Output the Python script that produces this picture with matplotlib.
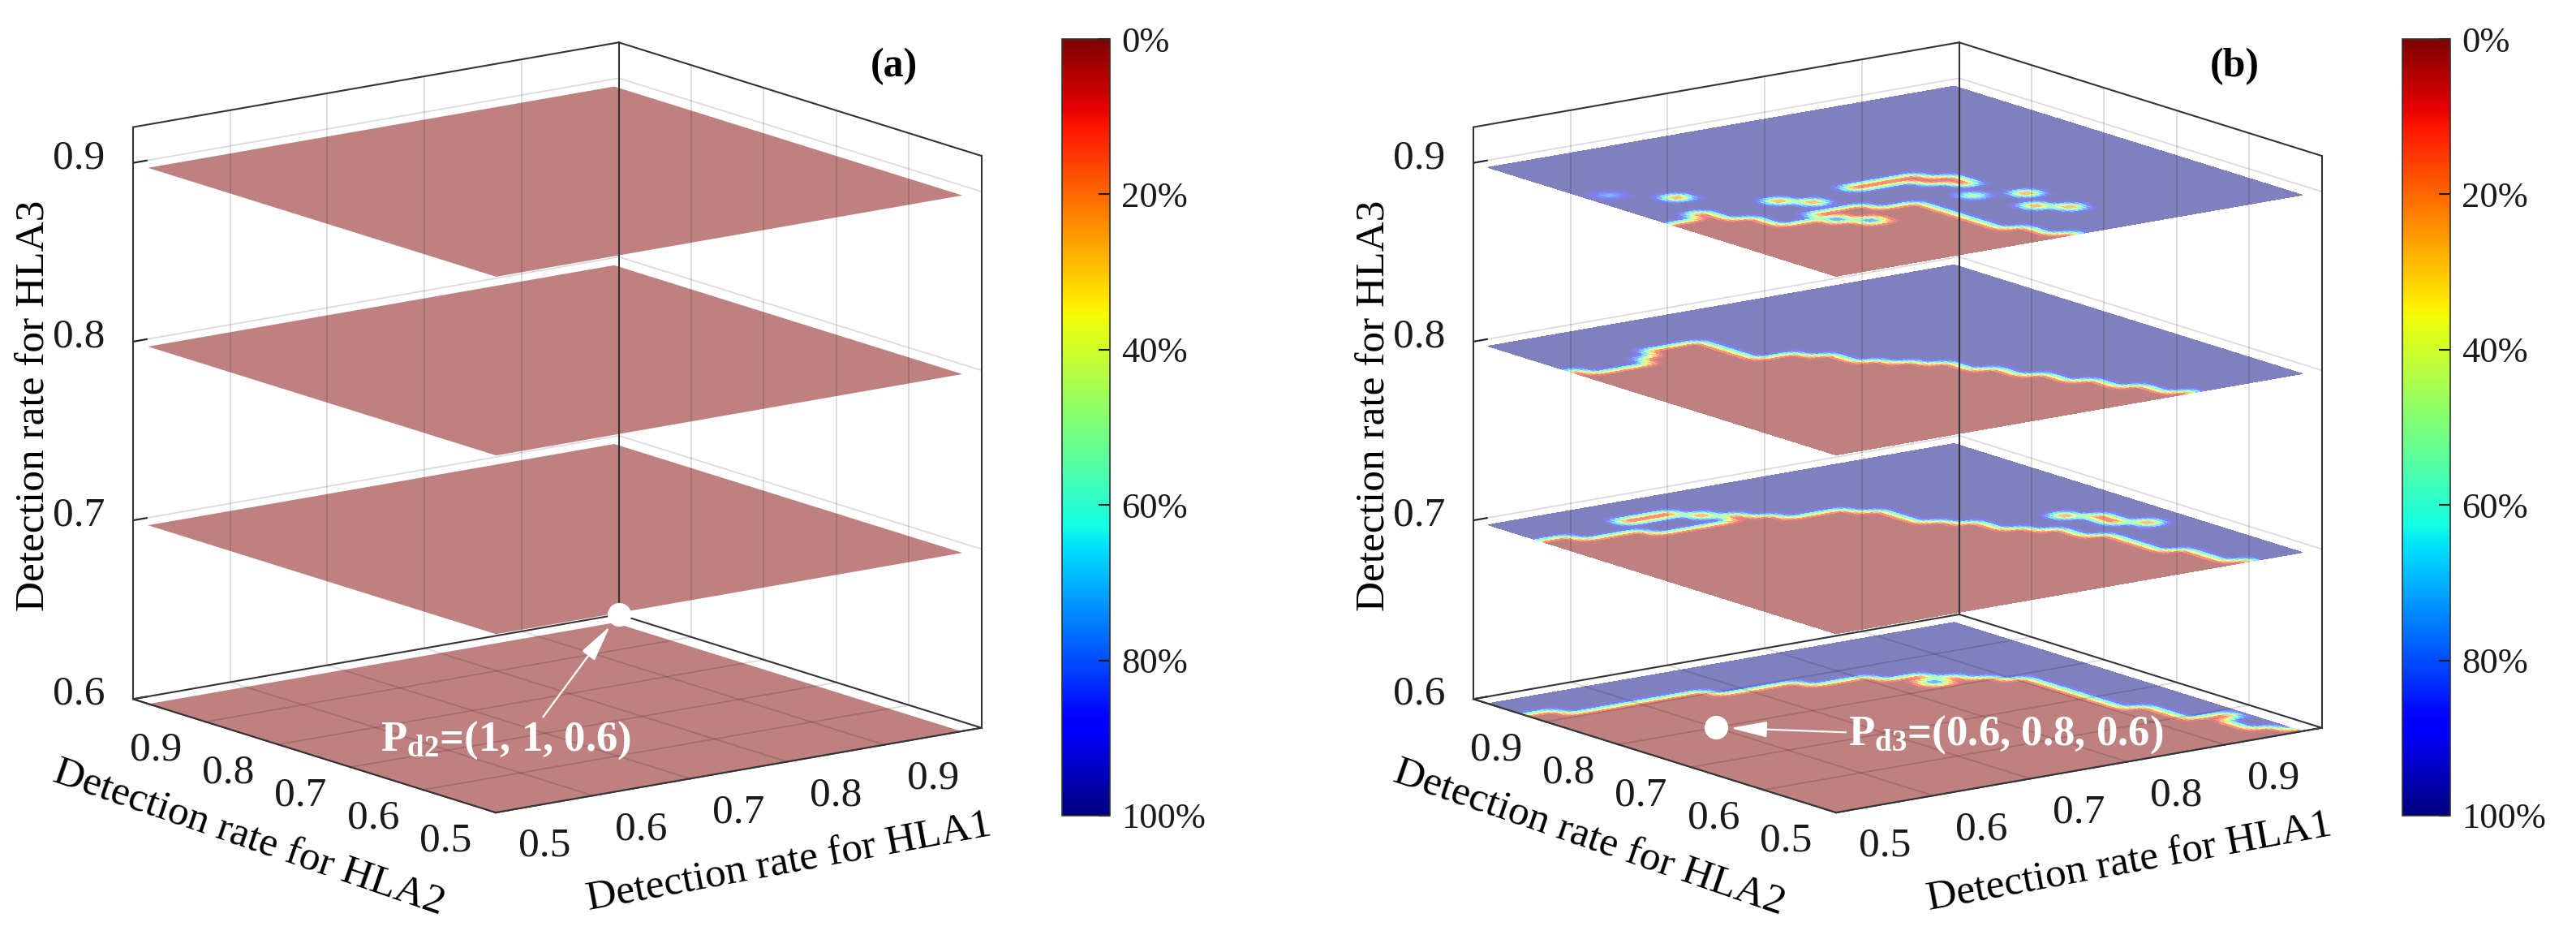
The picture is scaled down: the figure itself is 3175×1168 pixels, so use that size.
"""Rate slices over the HLA1/HLA2 detection-rate plane at four HLA3 levels.

(a) every slice sits at 0%, (b) a 0%/100% split that moves with HLA3.
"""
import numpy as np
import matplotlib
matplotlib.use('Agg')
import matplotlib.pyplot as plt
from matplotlib.cm import ScalarMappable
from matplotlib.colors import Normalize
from mpl_toolkits.mplot3d import proj3d

# ---------------------------------------------------------------------------
# Style
# ---------------------------------------------------------------------------
plt.rcParams.update({
    'font.family': 'Liberation Serif',
    'mathtext.fontset': 'custom',
    'mathtext.rm': 'Liberation Serif',
    'mathtext.it': 'Liberation Serif:italic',
    'mathtext.bf': 'Liberation Serif:bold',
    'xtick.color': '#262626',
    'ytick.color': '#262626',
})

W, H, DPI = 3175, 1168, 100
CMAP = plt.get_cmap('jet_r')
NORM = Normalize(0.0, 1.0)
SLICE_ALPHA = 0.5          # slices look like 50% transparent over white
EDGE = '#333333'
GRID_RGBA = (0.0, 0.0, 0.0, 0.14)

# ---------------------------------------------------------------------------
# Data
# ---------------------------------------------------------------------------
HLA_GRID = [0.50, 0.52, 0.54, 0.56, 0.58, 0.60, 0.62, 0.64, 0.66, 0.68,
            0.70, 0.72, 0.74, 0.76, 0.78, 0.80, 0.82, 0.84, 0.86, 0.88,
            0.90, 0.92, 0.94, 0.96, 0.98]
HLA3_LEVELS = [0.6, 0.7, 0.8, 0.9]

# (a): the rate is 0% on every slice
RATE_A = 0.0

# (b): for each HLA1 value in HLA_GRID, the HLA2 value from which the rate is 100%
EDGE_B_06 = [0.94, 0.94, 0.92, 0.92, 0.92, 0.92, 0.92, 0.92, 0.92, 0.90,
             0.90, 0.90, 0.90, 0.88, 0.88, 0.88, 0.86, 0.86, 0.84, 0.82,
             0.80, 0.66, 0.60, 0.54, 0.52]
EDGE_B_07 = [0.92, 0.92, 0.90, 0.90, 0.90, 0.88, 0.88, 0.88, 0.88, 0.90,
             0.88, 0.86, 0.86, 0.86, 0.84, 0.78, 0.76, 0.72, 0.70, 0.66,
             0.58, 0.52, 0.50, 0.50, 0.50]
EDGE_B_08 = [0.88, 0.86, 0.86, 0.86, 0.88, 0.90, 0.90, 0.90, 0.82, 0.82,
             0.80, 0.76, 0.74, 0.72, 0.68, 0.64, 0.60, 0.56, 0.52, 0.50,
             0.50, 0.50, 0.50, 0.50, 0.50]
EDGE_B_09 = [0.74, 0.74, 0.76, 0.72, 0.68, 0.68, 0.70, 0.70, 0.70, 0.68,
             0.68, 0.56, 0.52, 0.50, 0.50, 0.50, 0.50, 0.50, 0.50, 0.50,
             0.50, 0.50, 0.50, 0.50, 0.50]

# isolated cells that break the split: (HLA1, HLA2, rate)
SPOTS_B_06 = [(0.84, 0.82, 1.0), (0.96, 0.58, 0.0)]
SPOTS_B_07 = [(0.60, 0.92, 0.0), (0.62, 0.92, 0.0), (0.64, 0.92, 0.0),
              (0.66, 0.90, 0.0), (0.90, 0.72, 0.0), (0.92, 0.70, 0.0),
              (0.92, 0.68, 0.0), (0.94, 0.66, 0.0)]
SPOTS_B_08 = []
SPOTS_B_09 = [(0.52, 0.84, 0.7), (0.56, 0.80, 0.0), (0.62, 0.74, 0.0),
              (0.64, 0.72, 0.0), (0.70, 0.74, 0.0), (0.72, 0.74, 0.0),
              (0.74, 0.74, 0.0), (0.76, 0.74, 0.0), (0.76, 0.72, 0.0),
              (0.78, 0.72, 0.0), (0.78, 0.70, 0.0), (0.76, 0.66, 0.35),
              (0.80, 0.64, 0.0), (0.78, 0.60, 0.0), (0.80, 0.58, 0.0),
              (0.62, 0.66, 1.0), (0.64, 0.64, 1.0)]

POINT_A = (1.0, 1.0, 0.6)
POINT_B = (0.6, 0.8, 0.6)
TEXT_A = r'P$_{\mathbf{d2}}$=(1, 1, 0.6)'
TEXT_B = r'P$_{\mathbf{d3}}$=(0.6, 0.8, 0.6)'

XY_TICKS = [0.5, 0.6, 0.7, 0.8, 0.9]
Z_TICKS = [0.6, 0.7, 0.8, 0.9]
XY_LIM = (0.5, 1.0)
Z_LIM = (0.6, 0.92)
CBAR_TICKS = [0.0, 0.2, 0.4, 0.6, 0.8, 1.0]
CBAR_LABELS = ['0%', '20%', '40%', '60%', '80%', '100%']
LABEL_X = 'Detection rate for HLA1'
LABEL_Y = 'Detection rate for HLA2'
LABEL_Z = 'Detection rate for HLA3'

# ---------------------------------------------------------------------------
# Layout (pixel positions in the 3175x1168 canvas, origin top-left)
# ---------------------------------------------------------------------------
SHIFT_B = 1652
BOX_TARGETS = [((0.5, 1.0, 0.6), (168, 862)), ((0.5, 0.5, 0.6), (613, 1008)),
               ((1.0, 0.5, 0.6), (1205, 900)), ((1.0, 0.5, 0.92), (1205, 192)),
               ((1.0, 1.0, 0.92), (762, 48)), ((0.5, 1.0, 0.92), (168, 150))]
CBAR_X, CBAR_TOP, CBAR_BOT, CBAR_W = 1309, 48, 1005, 59
TAG_XY = (1102, 82)
ZLABEL_XY = (42, 500)
XLABEL_XY = (973, 1063)
YLABEL_XY = (307, 1033)
ANNOT_XY_A = (624, 912)
ANNOT_XY_B = (2472, 905)
# tick-label offsets from the tick, in data units
X_LAB_OFF = (0.0, -0.067, -0.0104)
Y_LAB_OFF = (-0.0515, 0.0, -0.011)
Z_LAB_OFF = (-0.026, 0.04, 0.0)


def refine(g, v, k):
    """Subdivide each cell k times so colours blend across a cell (interp shading)."""
    n = len(g)
    src = np.arange(n)
    dst = np.linspace(0, n - 1, (n - 1) * k + 1)
    gf = np.interp(dst, src, g)
    tmp = np.array([np.interp(dst, src, row) for row in v])
    vf = np.array([np.interp(dst, src, col) for col in tmp.T]).T
    return gf, vf


def rate_map(edge, spots):
    g = np.array(HLA_GRID)
    xg, yg = np.meshgrid(g, g)
    v = (yg >= np.array(edge)[None, :] - 1e-9).astype(float)
    for x, y, r in spots:
        v[np.argmin(abs(g - y)), np.argmin(abs(g - x))] = r
    return v


def to_2d(ax, x, y, z):
    px, py, _ = proj3d.proj_transform(x, y, z, ax.get_proj())
    return float(px), float(py)


def setup_axes(ax):
    ax.set_proj_type('ortho')
    ax.view_init(elev=13.5, azim=-126.75)
    ax.set_box_aspect((1, 1, 0.97))
    ax.set_xlim(*XY_LIM)
    ax.set_ylim(*XY_LIM)
    ax.set_zlim(*Z_LIM)
    ax.set_xticks(XY_TICKS)
    ax.set_yticks(XY_TICKS)
    ax.set_zticks(Z_TICKS)
    ax.set_xticklabels([])
    ax.set_yticklabels([])
    ax.set_zticklabels([])
    ax.grid(False)
    ax.set_facecolor((1, 1, 1, 0))
    for axis in (ax.xaxis, ax.yaxis, ax.zaxis):
        axis.set_pane_color((1, 1, 1, 0))
        axis.pane.set_edgecolor((1, 1, 1, 0))
        axis.line.set_color(EDGE)
        axis.line.set_linewidth(1.4)
        axis._axinfo['tick'].update({'inward_factor': 0.0, 'outward_factor': 0.35,
                                     'linewidth': {True: 1.5, False: 1.0}})


def draw_grid(ax):
    """Grid and box of the floor and back walls, drawn over the slices."""
    lo, hi = XY_LIM
    z0, z1 = Z_LIM
    kw = dict(color=GRID_RGBA, lw=1.3, zorder=8)
    for v in XY_TICKS[1:]:
        ax.plot([v, v], [lo, hi], [z0, z0], **kw)
        ax.plot([lo, hi], [v, v], [z0, z0], **kw)
        ax.plot([v, v], [hi, hi], [z0, z1], **kw)
        ax.plot([hi, hi], [v, v], [z0, z1], **kw)
    for z in Z_TICKS[1:]:
        ax.plot([lo, hi], [hi, hi], [z, z], **kw)
        ax.plot([hi, hi], [lo, hi], [z, z], **kw)
    ekw = dict(color=EDGE, lw=1.5, zorder=9)
    # floor outline
    ax.plot([lo, hi, hi, lo, lo], [lo, lo, hi, hi, lo], [z0] * 5, **ekw)
    # back walls: verticals and top edges
    ax.plot([lo, lo], [hi, hi], [z0, z1], **ekw)
    ax.plot([hi, hi], [hi, hi], [z0, z1], **ekw)
    ax.plot([hi, hi], [lo, lo], [z0, z1], **ekw)
    ax.plot([lo, hi, hi], [hi, hi, lo], [z1] * 3, **ekw)


def draw_tick_labels(ax):
    kw = dict(ha='center', va='center', fontsize=37, color='#1a1a1a',
              transform=ax.transData, zorder=20)
    z0 = Z_LIM[0]
    lo, hi = XY_LIM
    for v in XY_TICKS:
        ax.text2D(*to_2d(ax, v + X_LAB_OFF[0], lo + X_LAB_OFF[1], z0 + X_LAB_OFF[2]),
                  f'{v:.1f}', **kw)
        ax.text2D(*to_2d(ax, lo + Y_LAB_OFF[0], v + Y_LAB_OFF[1], z0 + Y_LAB_OFF[2]),
                  f'{v:.1f}', **kw)
    for v in Z_TICKS:
        ax.text2D(*to_2d(ax, lo + Z_LAB_OFF[0], hi + Z_LAB_OFF[1], v + Z_LAB_OFF[2]),
                  f'{v:.1f}', **kw)


def draw_slices(ax, maps, k):
    g = np.array(HLA_GRID)
    for i, z in enumerate(HLA3_LEVELS):
        v = maps[z]
        if k > 1:
            gf, vf = refine(g, v, k)
            step = 1
        else:
            gf, vf = g, v
            step = len(g) - 1
        # colour of each face = mean of its corners
        fv = np.zeros_like(vf)
        fv[:-1, :-1] = 0.25 * (vf[:-1, :-1] + vf[1:, :-1] + vf[:-1, 1:] + vf[1:, 1:])
        if step > 1:
            fv[0, 0] = vf.mean()
        fc = CMAP(NORM(fv))
        # translucent look, blended over the white background
        fc[..., :3] = 1.0 - SLICE_ALPHA * (1.0 - fc[..., :3])
        fc[..., 3] = 1.0
        X, Y = np.meshgrid(gf, gf)
        ax.plot_surface(X, Y, np.full_like(X, z), facecolors=fc, rstride=step,
                        cstride=step, shade=False, linewidth=0, antialiased=False,
                        zorder=1 + i)


def place_box(ax, shift):
    """Scale/move the 3D axes so the box corners land on the layout targets."""
    M = ax.get_proj()
    pts = np.array([p for p, _ in BOX_TARGETS], dtype=float)
    tx = np.array([t[0] + shift for _, t in BOX_TARGETS], dtype=float)
    ty = H - np.array([t[1] for _, t in BOX_TARGETS], dtype=float)
    xs, ys, _ = proj3d.proj_transform(pts[:, 0], pts[:, 1], pts[:, 2], M)
    disp = ax.transData.transform(np.column_stack([xs, ys]))
    bb = ax.bbox
    cx, cy, s = (bb.x0 + bb.x1) / 2, (bb.y0 + bb.y1) / 2, bb.width
    q = (disp - [cx, cy]) / s
    n = len(pts)
    A = np.zeros((2 * n, 3))
    A[:n, 0] = q[:, 0]
    A[:n, 1] = 1
    A[n:, 0] = q[:, 1]
    A[n:, 2] = 1
    s2, cx2, cy2 = np.linalg.lstsq(A, np.concatenate([tx, ty]), rcond=None)[0]
    ax.set_position([(cx2 - s2 / 2) / W, (cy2 - s2 / 2) / H, s2 / W, s2 / H])


def annotate_point(ax, pt, text, xy_px, relpos):
    ax.plot([pt[0]], [pt[1]], [pt[2]], 'o', color='white', markersize=21,
            markeredgewidth=0, zorder=10)
    ax.annotate(text, xy=to_2d(ax, *pt), xycoords='data',
                xytext=(xy_px[0], H - xy_px[1]), textcoords='figure pixels',
                ha='center', va='center', color='white', fontsize=38,
                fontweight='bold', annotation_clip=False, zorder=30,
                arrowprops=dict(arrowstyle='-|>,head_length=1.4,head_width=0.3',
                                color='white', lw=1.6, shrinkA=0, shrinkB=13,
                                relpos=relpos, mutation_scale=20))


def panel_text(fig, shift, tag):
    fx = lambda p: (p[0] + shift) / W
    fy = lambda p: 1 - p[1] / H
    fig.text(fx(TAG_XY), fy(TAG_XY), tag, ha='center', va='center',
             fontsize=36, fontweight='bold')
    fig.text(fx(ZLABEL_XY), fy(ZLABEL_XY), LABEL_Z, ha='center', va='center',
             rotation=90, fontsize=37, rotation_mode='anchor')
    fig.text(fx(XLABEL_XY), fy(XLABEL_XY), LABEL_X, ha='center', va='center',
             rotation=10.5, fontsize=37, rotation_mode='anchor')
    fig.text(fx(YLABEL_XY), fy(YLABEL_XY), LABEL_Y, ha='center', va='center',
             rotation=-19, fontsize=37, rotation_mode='anchor')


def add_colorbar(fig, shift):
    cax = fig.add_axes([(CBAR_X + shift) / W, 1 - CBAR_BOT / H, CBAR_W / W,
                        (CBAR_BOT - CBAR_TOP) / H])
    cb = fig.colorbar(ScalarMappable(norm=NORM, cmap=CMAP), cax=cax, ticks=CBAR_TICKS)
    cb.ax.set_yticklabels(CBAR_LABELS)
    cb.ax.invert_yaxis()
    cb.ax.tick_params(direction='in', length=10, width=1.5, labelsize=32, pad=10,
                      colors='#1a1a1a')
    cb.outline.set_linewidth(1.2)
    cb.outline.set_edgecolor(EDGE)


def main():
    n = len(HLA_GRID)
    maps_a = {z: np.full((n, n), RATE_A) for z in HLA3_LEVELS}
    maps_b = {
        0.6: rate_map(EDGE_B_06, SPOTS_B_06),
        0.7: rate_map(EDGE_B_07, SPOTS_B_07),
        0.8: rate_map(EDGE_B_08, SPOTS_B_08),
        0.9: rate_map(EDGE_B_09, SPOTS_B_09),
    }

    fig = plt.figure(figsize=(W / DPI, H / DPI), dpi=DPI)
    ax_a = fig.add_axes([0.0, 0.0, 0.45, 1.0], projection='3d', computed_zorder=False)
    ax_b = fig.add_axes([0.52, 0.0, 0.45, 1.0], projection='3d', computed_zorder=False)
    for ax in (ax_a, ax_b):
        setup_axes(ax)
        draw_grid(ax)
    draw_slices(ax_a, maps_a, 1)
    draw_slices(ax_b, maps_b, 4)

    fig.canvas.draw()
    place_box(ax_a, 0)
    place_box(ax_b, SHIFT_B)

    for ax in (ax_a, ax_b):
        draw_tick_labels(ax)
    annotate_point(ax_a, POINT_A, TEXT_A, ANNOT_XY_A, (0.64, 1.0))
    annotate_point(ax_b, POINT_B, TEXT_B, ANNOT_XY_B, (0.0, 0.55))
    panel_text(fig, 0, '(a)')
    panel_text(fig, SHIFT_B, '(b)')
    add_colorbar(fig, 0)
    add_colorbar(fig, SHIFT_B)

    fig.savefig('out.png', dpi=DPI, facecolor='white')
    plt.close(fig)


if __name__ == '__main__':
    main()
